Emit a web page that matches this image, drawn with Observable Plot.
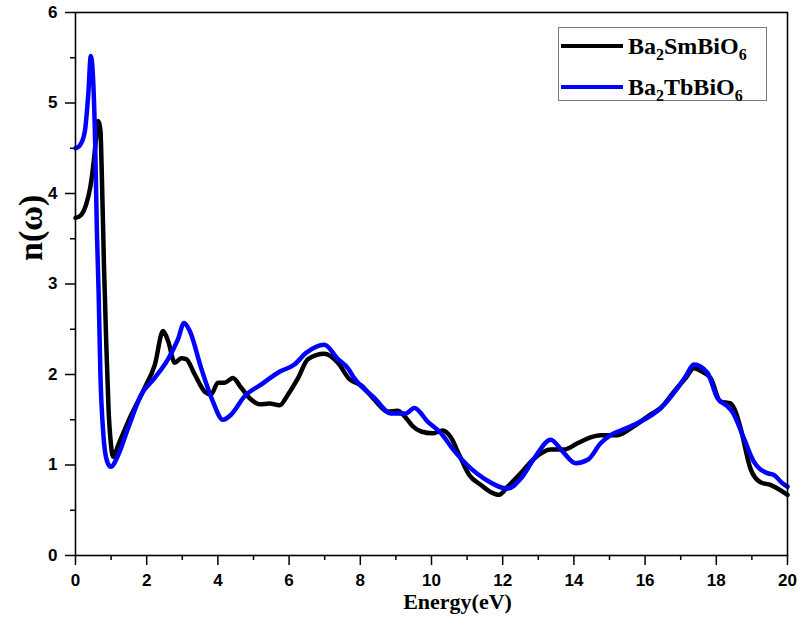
<!DOCTYPE html>
<html>
<head>
<meta charset="utf-8">
<script src="https://cdn.jsdelivr.net/npm/d3@7"></script>
<script src="https://cdn.jsdelivr.net/npm/@observablehq/plot@0.6"></script>
<style>
  html, body { margin: 0; padding: 0; background: #fff; }
  #wrap { position: relative; width: 798px; height: 620px; }
  #legend {
    position: absolute; left: 558px; top: 27px; width: 209px; height: 74px;
    border: 1px solid #777; box-sizing: border-box; background: #fff;
    font-family: "Liberation Serif", "Times New Roman", serif; font-weight: bold; font-size: 24px;
  }
  .row { position: absolute; left: 2px; height: 30px; display: flex; align-items: center; }
  .swatch { width: 62px; height: 4px; margin-right: 5px; }
  .row sub { font-size: 16px; vertical-align: -6px; line-height: 0; }
</style>
</head>
<body>
<div id="wrap">
  <div id="chart"></div>
  <div id="legend"></div>
</div>
<script>
// Refractive index n(ω) versus photon energy for the two double perovskites
const seriesNames = ["Ba2SmBiO6", "Ba2TbBiO6"];
const seriesColors = ["#000000", "#0000ff"];

const smEnergy = [0, 0.15, 0.3, 0.42, 0.52, 0.58, 0.64, 0.70, 0.74, 0.80, 0.86, 0.93, 0.99, 1.06, 1.2, 1.48, 1.94, 2.23, 2.46, 2.6, 2.79, 2.97, 3.11, 3.35, 3.63, 3.81, 4.0, 4.19, 4.42, 4.66, 4.94, 5.17, 5.45, 5.73, 5.97, 6.25, 6.53, 6.99, 7.37, 7.69, 8.02, 8.4, 8.77, 9.05, 9.24, 9.47, 9.71, 10.03, 10.31, 10.55, 10.78, 11.06, 11.39, 11.67, 11.9, 12.14, 12.51, 12.88, 13.35, 13.72, 14.1, 14.43, 14.75, 15.22, 15.69, 16.16, 16.44, 16.81, 17.14, 17.37, 17.65, 17.84, 18.12, 18.4, 18.54, 18.68, 18.96, 19.24, 19.52, 20];
const smN = [3.73, 3.76, 3.88, 4.08, 4.38, 4.62, 4.8, 4.7, 4.2, 3.2, 2.4, 1.6, 1.25, 1.09, 1.22, 1.48, 1.85, 2.11, 2.48, 2.37, 2.13, 2.18, 2.17, 2.0, 1.81, 1.78, 1.91, 1.91, 1.96, 1.85, 1.72, 1.67, 1.68, 1.66, 1.78, 1.96, 2.17, 2.23, 2.13, 1.95, 1.88, 1.72, 1.59, 1.6, 1.54, 1.43, 1.37, 1.35, 1.38, 1.30, 1.11, 0.89, 0.78, 0.70, 0.67, 0.76, 0.91, 1.07, 1.17, 1.17, 1.24, 1.30, 1.33, 1.33, 1.43, 1.56, 1.63, 1.81, 1.96, 2.07, 2.02, 1.96, 1.70, 1.68, 1.59, 1.41, 0.96, 0.81, 0.78, 0.67];

const tbEnergy = [0, 0.12, 0.26, 0.36, 0.43, 0.49, 0.55, 0.6, 0.65, 0.7, 0.78, 0.88, 0.99, 1.2, 1.48, 1.85, 2.22, 2.6, 2.88, 3.05, 3.21, 3.53, 3.86, 4.14, 4.38, 4.75, 5.22, 5.73, 6.15, 6.48, 6.99, 7.37, 7.65, 7.83, 8.4, 8.86, 9.28, 9.52, 9.89, 10.27, 10.59, 11.11, 11.48, 12.14, 12.51, 12.88, 13.35, 13.68, 14.05, 14.4, 14.75, 15.03, 15.5, 16.06, 16.44, 16.91, 17.14, 17.37, 17.75, 18.03, 18.31, 18.45, 18.77, 19.05, 19.43, 19.62, 19.85, 20];
const tbN = [4.5, 4.53, 4.68, 5.1, 5.52, 5.3, 4.6, 3.6, 2.9, 2.0, 1.35, 1.05, 0.98, 1.11, 1.41, 1.78, 1.96, 2.17, 2.39, 2.57, 2.48, 2.07, 1.70, 1.50, 1.56, 1.76, 1.89, 2.03, 2.11, 2.24, 2.33, 2.17, 2.07, 1.96, 1.74, 1.57, 1.57, 1.63, 1.48, 1.35, 1.18, 0.96, 0.85, 0.74, 0.85, 1.07, 1.28, 1.15, 1.02, 1.06, 1.24, 1.33, 1.41, 1.52, 1.63, 1.85, 1.98, 2.11, 2.02, 1.74, 1.65, 1.59, 1.30, 1.04, 0.91, 0.89, 0.80, 0.76];

const xMajor = [0, 2, 4, 6, 8, 10, 12, 14, 16, 18, 20];
const xMinor = [1, 3, 5, 7, 9, 11, 13, 15, 17, 19];
const yMajor = [0, 1, 2, 3, 4, 5, 6];
const yMinor = [0.5, 1.5, 2.5, 3.5, 4.5, 5.5];

const sm = smEnergy.map((e, i) => ({e, n: smN[i]}));
const tb = tbEnergy.map((e, i) => ({e, n: tbN[i]}));

const tickFont = {fontSize: 17, fontWeight: "bold", fontFamily: "'Liberation Sans', Arial, sans-serif"};
const titleFont = {fontWeight: "bold", fontFamily: "'Liberation Serif', 'Times New Roman', serif", fill: "#000"};
const plain = d => String(d);

const chart = Plot.plot({
  width: 798,
  height: 620,
  marginLeft: 75,
  marginRight: 11,
  marginTop: 12,
  marginBottom: 65,
  style: {background: "#fff", color: "#000"},
  x: {domain: [0, 20], label: null},
  y: {domain: [0, 6], label: null},
  marks: [
    Plot.axisX({ticks: xMajor, tickSize: 10, tickPadding: 8, strokeWidth: 1.5, tickFormat: plain, label: null, ...tickFont}),
    Plot.axisX({ticks: xMinor, tickSize: 5, text: null, strokeWidth: 1.5, label: null}),
    Plot.axisY({ticks: yMajor, tickSize: 10, tickPadding: 8, strokeWidth: 1.5, tickFormat: plain, label: null, ...tickFont}),
    Plot.axisY({ticks: yMinor, tickSize: 5, text: null, strokeWidth: 1.5, label: null}),
    Plot.line(sm, {x: "e", y: "n", stroke: seriesColors[0], strokeWidth: 4.5, curve: "monotone-x"}),
    Plot.line(tb, {x: "e", y: "n", stroke: seriesColors[1], strokeWidth: 4.5, curve: "monotone-x"}),
    Plot.frame({stroke: "#000", strokeWidth: 1.6}),
    Plot.text(["Energy(eV)"], {frameAnchor: "bottom", dx: 26, dy: 53, fontSize: 22, ...titleFont}),
    Plot.text(["n(ω)"], {frameAnchor: "left", rotate: -90, dx: -44, dy: -23, fontSize: 34, ...titleFont})
  ]
});
document.getElementById("chart").appendChild(chart);

// legend box with subscripted formulas
const legend = d3.select("#legend");
seriesNames.forEach((name, i) => {
  const row = legend.append("div").attr("class", "row").style("top", (i === 0 ? 3 : 44) + "px");
  row.append("div").attr("class", "swatch").style("background", seriesColors[i]);
  const label = row.append("div");
  name.split(/(\d)/).forEach(part => {
    if (/\d/.test(part)) label.append("sub").text(part);
    else if (part) label.append("span").text(part);
  });
});
</script>
</body>
</html>
